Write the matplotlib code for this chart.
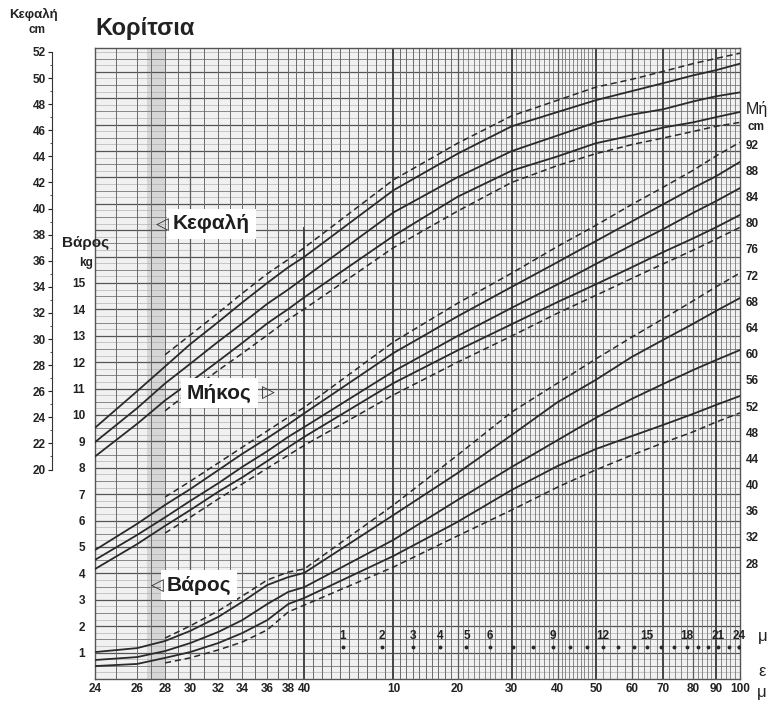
import numpy as np
import matplotlib
matplotlib.use("Agg")
import matplotlib.pyplot as plt

plt.rcParams["font.family"] = ["Liberation Sans", "DejaVu Sans"]

# printed age axis: weeks since conception and the uneven spacing the chart uses
age_stops = [24, 26, 28, 30, 32, 34, 36, 38, 40, 50, 60, 70, 80, 90, 100, 110, 120, 130, 140]
age_stop_spacing = [95, 137, 165, 190, 218, 242, 267, 288, 304, 393, 457, 511, 557, 595, 631, 662, 692, 715, 739]

ages = age_stops            # solid percentile curves start at 24 weeks
ages_dashed = age_stops[2:]  # dashed ones (3rd / 97th) start at 28 weeks

# head circumference, cm
head_p97 = [28.8, 30.3, 32.0, 33.5, 35.0, 36.1, 37.0, 42.2, 45.0, 47.1, 48.3, 49.3, 49.9, 50.5, 51.1, 51.5, 51.9]
head_p90 = [23.2, 26.0, 27.9, 29.6, 31.3, 32.8, 34.3, 35.5, 36.3, 41.4, 44.2, 46.3, 47.4, 48.3, 49.0, 49.6, 50.2, 50.6, 51.1]
head_p50 = [22.1, 24.7, 26.6, 28.1, 29.8, 31.2, 32.7, 33.8, 34.7, 39.7, 42.4, 44.4, 45.6, 46.6, 47.2, 47.6, 48.2, 48.6, 48.9]
head_p10 = [21.0, 23.5, 25.3, 26.7, 28.3, 29.7, 31.2, 32.3, 33.2, 37.9, 40.9, 42.9, 44.0, 45.0, 45.6, 46.2, 46.6, 47.0, 47.4]
head_p3 = [24.5, 26.0, 27.6, 28.9, 30.3, 31.5, 32.3, 37.0, 39.8, 42.0, 43.3, 44.2, 44.9, 45.4, 45.9, 46.3, 46.6]

# length, cm
len_p97 = [38.1, 40.5, 43.3, 45.7, 48.2, 50.3, 51.8, 61.8, 67.7, 72.3, 76.4, 79.6, 82.8, 85.4, 88.0, 90.2, 92.3]
len_p90 = [30.0, 34.0, 36.9, 39.3, 42.2, 44.7, 47.1, 49.2, 50.9, 60.1, 65.7, 70.2, 74.0, 77.2, 80.2, 82.8, 85.3, 87.1, 89.3]
len_p50 = [28.5, 32.3, 35.0, 37.5, 40.2, 42.7, 45.1, 47.3, 48.8, 57.3, 62.7, 67.0, 70.6, 73.7, 76.6, 79.0, 81.5, 83.3, 85.3]
len_p10 = [27.1, 30.9, 33.7, 36.1, 38.9, 41.1, 43.6, 45.7, 47.3, 55.5, 60.5, 64.5, 67.9, 70.6, 73.2, 75.5, 77.6, 79.3, 81.2]
len_p3 = [32.6, 35.0, 37.8, 40.1, 42.5, 44.5, 46.0, 53.7, 58.7, 62.7, 66.2, 68.9, 71.5, 73.7, 75.8, 77.5, 79.3]

# weight, kg
w_p97 = [1.55, 2.01, 2.58, 3.14, 3.75, 4.05, 4.17, 6.59, 8.48, 10.11, 11.21, 12.12, 12.95, 13.64, 14.32, 14.85, 15.38]
w_p90 = [1.02, 1.17, 1.44, 1.82, 2.35, 2.92, 3.56, 3.86, 4.02, 6.21, 7.80, 9.24, 10.49, 11.33, 12.20, 12.84, 13.45, 13.94, 14.43]
w_p50 = [0.72, 0.83, 1.06, 1.36, 1.78, 2.23, 2.84, 3.30, 3.48, 5.27, 6.78, 8.03, 9.05, 9.89, 10.61, 11.17, 11.70, 12.08, 12.46]
w_p10 = [0.49, 0.57, 0.80, 1.02, 1.36, 1.74, 2.23, 2.84, 3.07, 4.66, 5.95, 7.16, 8.07, 8.71, 9.20, 9.62, 10.04, 10.38, 10.72]
w_p3 = [0.61, 0.80, 1.10, 1.40, 1.86, 2.54, 2.80, 4.24, 5.42, 6.40, 7.27, 7.92, 8.48, 8.94, 9.36, 9.73, 10.08]

gest_weeks = [24, 26, 28, 30, 32, 34, 36, 38, 40]
post_weeks = [10, 20, 30, 40, 50, 60, 70, 80, 90, 100]
months_labelled = [1, 2, 3, 4, 5, 6, 9, 12, 15, 18, 21, 24]

ink = "#2a2a2a"
dash = (0, (4, 2.5))

W, H = 772, 704


def fx(px):
    return px / W


def fy(py):
    return 1 - py / H


def fwd(a):
    return np.interp(a, age_stops, age_stop_spacing)


def inv(p):
    return np.interp(p, age_stop_spacing, age_stops)


fig = plt.figure(figsize=(W / 100, H / 100), dpi=100)
ax = fig.add_axes([fx(95), fy(679), fx(740) - fx(95), fy(48) - fy(679)])
ax.set_facecolor("#f1f1f1")
ax.set_xscale("function", functions=(fwd, inv))
ax.set_xlim(24, 140)
ax.set_ylim(0, 23.9)

# graph-paper grid
ax.axvspan(26.7, 28.1, color="#d6d6d6", lw=0, zorder=0)
for w in np.arange(0.25, 23.9, 0.25):
    if w % 1 == 0:
        ax.axhline(w, color="#555555", lw=0.9, zorder=0.5)
    elif w % 0.5 == 0:
        ax.axhline(w, color="#767676", lw=0.6, zorder=0.5)
    else:
        ax.axhline(w, color="#a4a4a4", lw=0.4, zorder=0.5)

weeks = list(range(25, 90)) + list(range(90, 140, 2))
for wk in weeks:
    if wk in (50, 70, 90, 110, 130):
        ax.axvline(wk, color="#444444", lw=1.4, zorder=0.6)
    elif wk == 40:
        ax.axvline(wk, ymax=0.715, color="#444444", lw=1.4, zorder=0.6)
        ax.axvline(wk, ymin=0.715, color="#6a6a6a", lw=0.7, zorder=0.6)
    elif wk % 10 == 0:
        ax.axvline(wk, color="#5a5a5a", lw=0.9, zorder=0.6)
    elif wk > 60:
        ax.axvline(wk, color="#6e6e6e", lw=0.55, zorder=0.6)
    else:
        ax.axvline(wk, color="#6a6a6a", lw=0.7, zorder=0.6)

for s in ax.spines.values():
    s.set_color("#555555")
    s.set_linewidth(1.0)

# weight curves
for vals in (w_p90, w_p50, w_p10):
    ax.plot(ages, vals, color=ink, lw=1.3, zorder=3)
for vals in (w_p97, w_p3):
    ax.plot(ages_dashed, vals, color=ink, lw=1.1, ls=dash, zorder=3)

ax.set_yticks(range(1, 16), [str(v) for v in range(1, 16)], fontsize=8.5, fontweight="bold")
ax.tick_params(axis="y", length=0, pad=7, colors="#222222")
ax.set_xticks(gest_weeks + [40 + p for p in post_weeks],
              [str(v) for v in gest_weeks] + [str(v) for v in post_weeks],
              fontsize=8.5, fontweight="bold")
ax.tick_params(axis="x", length=0, pad=3, colors="#222222")

# month marks along the bottom
trans = ax.get_xaxis_transform()
months_all = np.arange(1, 25)
month_ages = 40 + np.minimum(months_all * 4.33, 99.5)
ax.plot(month_ages, np.full(len(months_all), 0.051), transform=trans, ls="none",
        marker="o", ms=1.8, color=ink, zorder=3)
for m in months_labelled:
    ax.text(40 + min(m * 4.33, 99.5), 0.068, str(m), transform=trans, ha="center",
            va="center", fontsize=8.5, fontweight="bold", color="#222222", zorder=4)

# head circumference on its own scale
axh = ax.twinx()
axh.set_ylim(3.95, 52.3)
for s in axh.spines.values():
    s.set_visible(False)
axh.yaxis.tick_left()
axh.spines["left"].set_visible(True)
axh.spines["left"].set_position(("outward", 31))
axh.spines["left"].set_bounds(20, 52)
axh.spines["left"].set_color("#333333")
axh.set_yticks(range(20, 53, 2), [str(v) for v in range(20, 53, 2)], fontsize=8.5, fontweight="bold")
axh.set_yticks(range(21, 52, 2), minor=True)
axh.tick_params(axis="y", which="major", length=3, width=0.8, pad=1.5, colors="#222222")
axh.tick_params(axis="y", which="minor", length=1.5, width=0.6, colors="#333333")
for vals in (head_p90, head_p50, head_p10):
    axh.plot(ages, vals, color=ink, lw=1.3)
for vals in (head_p97, head_p3):
    axh.plot(ages_dashed, vals, color=ink, lw=1.1, ls=dash)

# length on the right scale
axl = ax.twinx()
axl.set_ylim(10.3, 106.7)
for s in axl.spines.values():
    s.set_visible(False)
axl.set_yticks(range(28, 93, 4), [str(v) for v in range(28, 93, 4)], fontsize=8.5, fontweight="bold")
axl.tick_params(axis="y", length=0, pad=4, colors="#222222")
for vals in (len_p90, len_p50, len_p10):
    axl.plot(ages, vals, color=ink, lw=1.3)
for vals in (len_p97, len_p3):
    axl.plot(ages_dashed, vals, color=ink, lw=1.1, ls=dash)

# titles and axis names
fig.text(fx(95), fy(28), "Κορίτσια", fontsize=17, fontweight="bold", va="center", color="#222222")
fig.text(fx(34), fy(14), "Κεφαλή", fontsize=9.5, fontweight="bold", ha="center", va="center", color="#222222")
fig.text(fx(37), fy(30), "cm", fontsize=8.5, fontweight="bold", ha="center", va="center", color="#222222")
fig.text(fx(86), fy(243), "Βάρος", fontsize=11, fontweight="bold", ha="center", va="center", color="#222222")
fig.text(fx(86), fy(263), "kg", fontsize=8.5, fontweight="bold", ha="center", va="center", color="#222222")
fig.text(fx(757), fy(109), "Μή", fontsize=11.5, ha="center", va="center", color="#222222")
fig.text(fx(756), fy(127), "cm", fontsize=8.5, fontweight="bold", ha="center", va="center", color="#222222")
fig.text(fx(763), fy(636), "μ", fontsize=12, ha="center", va="center", color="#222222")
fig.text(fx(762), fy(671), "ε", fontsize=12, ha="center", va="center", color="#222222")
fig.text(fx(762), fy(692), "μ", fontsize=12, ha="center", va="center", color="#222222")

# curve-group labels on white patches
box = dict(fc="white", ec="none", pad=4)
fig.text(fx(173), fy(224), "Κεφαλή", fontsize=15, fontweight="bold", va="center", color="#1e1e1e", bbox=box)
fig.text(fx(162), fy(225), "◁", fontsize=12, ha="center", va="center", family="DejaVu Sans", color="#333333")
fig.text(fx(187), fy(393), "Μήκος", fontsize=15, fontweight="bold", va="center", color="#1e1e1e", bbox=box)
fig.text(fx(268), fy(393), "▷", fontsize=12, ha="center", va="center", family="DejaVu Sans", color="#333333")
fig.text(fx(167), fy(585), "Βάρος", fontsize=15, fontweight="bold", va="center", color="#1e1e1e", bbox=box)
fig.text(fx(157), fy(586), "◁", fontsize=12, ha="center", va="center", family="DejaVu Sans", color="#333333")

fig.savefig("out.png", dpi=100, facecolor="white")
